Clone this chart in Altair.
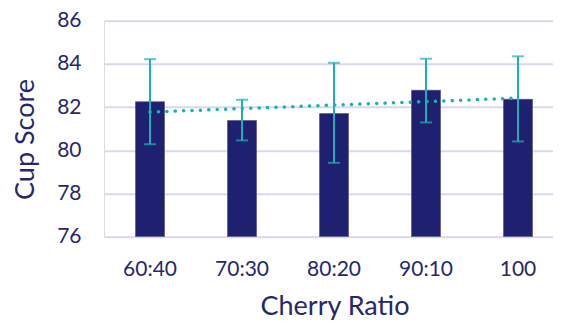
import altair as alt
import pandas as pd
import numpy as np

categories = ["60:40", "70:30", "80:20", "90:10", "100"]
means = [82.25, 81.38, 81.70, 82.78, 82.36]
err_low = [80.28, 80.46, 79.42, 81.29, 80.41]
err_high = [84.22, 82.34, 84.05, 84.24, 84.35]

idx = np.arange(len(categories))
slope, intercept = np.polyfit(idx, means, 1)
trend = list(intercept + slope * idx)

df = pd.DataFrame({
    "cat": categories,
    "mean": means,
    "lo": err_low,
    "hi": err_high,
    "trend": trend,
})

NAVY = "#202070"
TEAL = "#19B2B4"
TEXT = "#27276C"
GRID = "#D9D9EC"
FONT = "Lato"

xscale = alt.Scale(paddingInner=0.685, paddingOuter=0.2826, align=0.606)
yscale = alt.Scale(domain=[76, 86], nice=False, zero=False)

x_enc = alt.X("cat:N", sort=categories, scale=xscale,
              axis=alt.Axis(title="Cherry Ratio", labelAngle=0, ticks=False, tickSize=0,
                            domain=False, grid=False, labelPadding=39,
                            labelBaseline="alphabetic", labelFont=FONT, labelFontSize=21,
                            labelColor=TEXT, titleFont=FONT, titleFontSize=27,
                            titleFontWeight="normal", titleColor=TEXT,
                            titleX=230.5, titleY=77.5, titleBaseline="alphabetic",
                            titleAlign="center"))
y_axis = alt.Axis(title="Cup Score", values=[76, 78, 80, 82, 84, 86], ticks=False, tickSize=0,
                  domain=False, grid=True, gridColor=GRID, gridWidth=2,
                  labelPadding=23, labelFont=FONT, labelFontSize=21, labelColor=TEXT,
                  titleFont=FONT, titleFontSize=27, titleFontWeight="normal",
                  titleColor=TEXT, titleAngle=270, titleX=-70.5, titleY=118.3,
                  titleBaseline="alphabetic", titleAlign="center")

base = alt.Chart(df)

bars = base.mark_bar(color=NAVY, stroke="#4A4A8A", strokeWidth=0.6, clip=True).encode(
    x=x_enc,
    y=alt.Y("mean:Q", scale=yscale, axis=y_axis),
    y2=alt.datum(76),
)

rules = base.mark_rule(color=TEAL, strokeWidth=2).encode(
    x=alt.X("cat:N", sort=categories),
    y=alt.Y("lo:Q"),
    y2="hi:Q",
)

caps_hi = base.mark_tick(color=TEAL, thickness=2, size=12).encode(
    x=alt.X("cat:N", sort=categories),
    y=alt.Y("hi:Q"),
)
caps_lo = base.mark_tick(color=TEAL, thickness=2, size=12).encode(
    x=alt.X("cat:N", sort=categories),
    y=alt.Y("lo:Q"),
)

trend_line = base.mark_line(color=TEAL, strokeWidth=3.5, strokeDash=[0.1, 8.3],
                            strokeCap="round").encode(
    x=alt.X("cat:N", sort=categories),
    y=alt.Y("trend:Q"),
)

chart = alt.layer(bars, trend_line, rules, caps_hi, caps_lo).properties(
    width=449,
    height=216,
    autosize=alt.AutoSizeParams(type="none"),
    padding={"left": 96, "top": 12.7, "right": 0, "bottom": 84},
).configure_view(stroke=None).configure(background="white")

chart.save("out.html", embed_options={"renderer": "svg", "actions": False})
